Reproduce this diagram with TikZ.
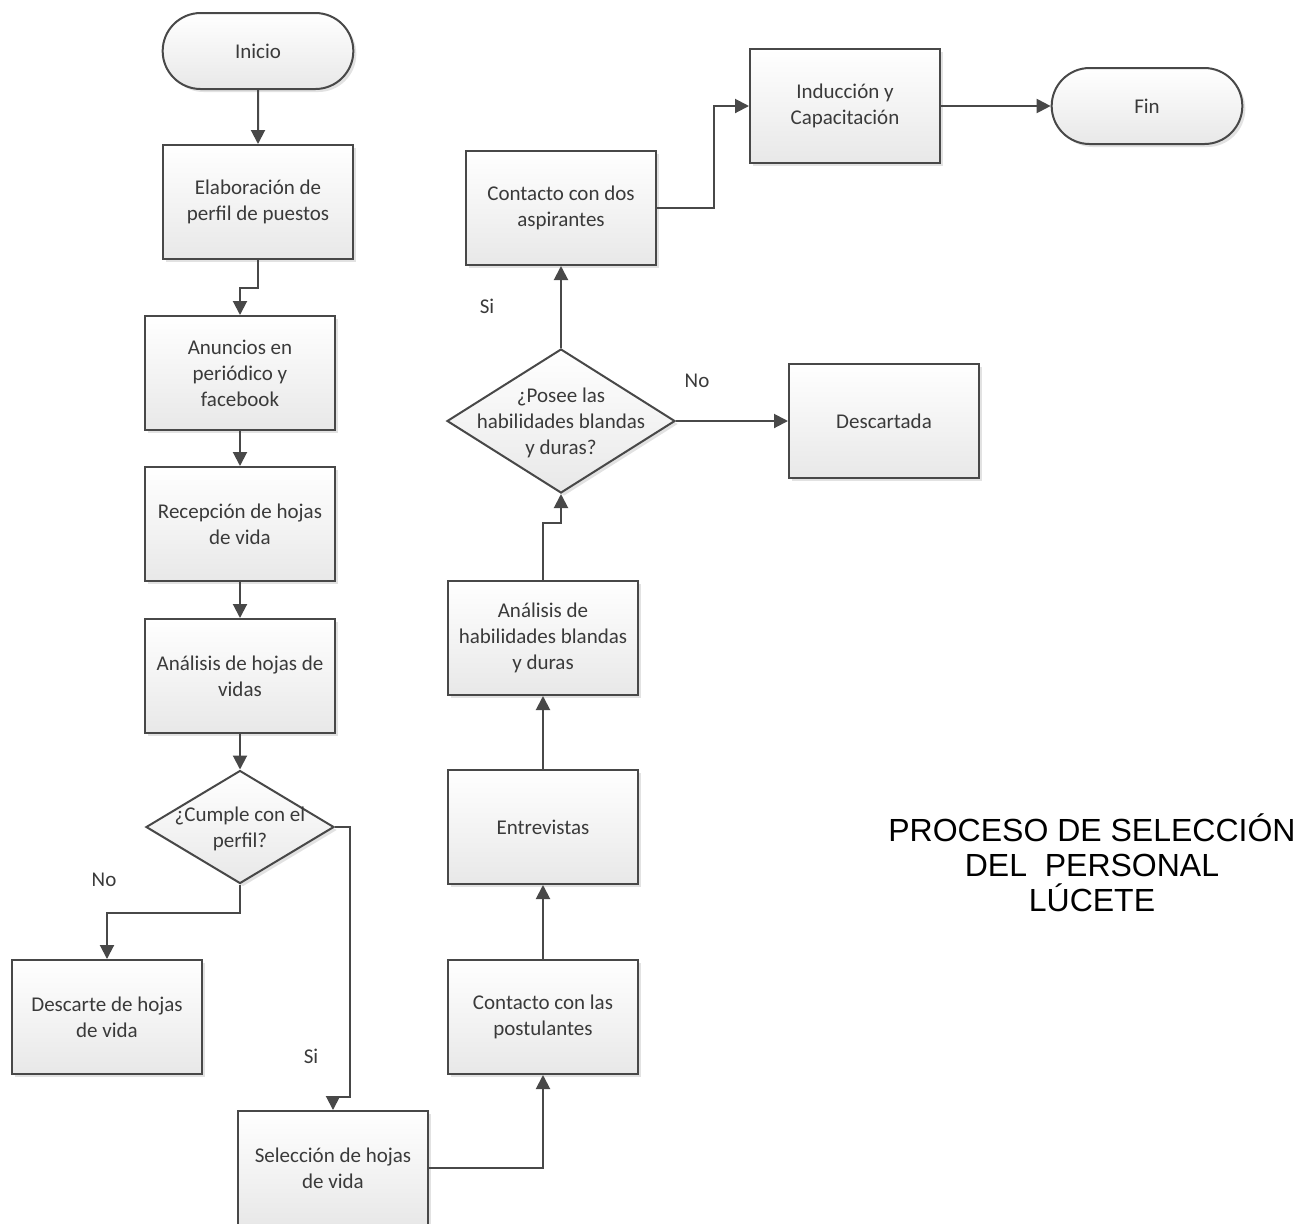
\documentclass[tikz,border=0pt]{standalone}
\usepackage{fontspec}
\setmainfont{Carlito}
\newfontfamily\titlefont{Liberation Sans}
\usetikzlibrary{shapes.geometric,shapes.misc,arrows.meta,shadows}

\definecolor{linegray}{HTML}{484848}
\definecolor{txtgray}{HTML}{3A3A3A}

% text that may run over the edges of a diamond
\newcommand{\dtext}[1]{\makebox[0pt]{\raisebox{-4pt}{\begin{tabular}{@{}c@{}}#1\end{tabular}}}}

\tikzset{
    boxtext/.style={text=txtgray, font=\fontsize{10.5}{13}\selectfont},
    stepbox/.style={boxtext, draw=linegray, line width=1pt, top color=white, bottom color=black!9,
        minimum width=95pt, minimum height=57pt, align=center,
        drop shadow={shadow xshift=1.5pt, shadow yshift=-1.5pt, opacity=.25, fill=black!45}},
    endbox/.style={stepbox, rounded rectangle, minimum width=102pt, minimum height=38pt},
    askbox/.style={stepbox, diamond, inner sep=0pt, text height=0pt, text depth=0pt},
    flow/.style={draw=linegray, line width=1pt, -{Triangle[width=7pt,length=7pt]}},
}

\begin{document}
\begin{tikzpicture}[x=0.5pt, y=-0.5pt]%% start picture
    \clip (0, 0) rectangle (1297, 1223);

        %% left column
            \node[endbox] (inicio) at (258, 51){Inicio};
            \node[stepbox] (elab) at (258, 202){Elaboración de\\perfil de puestos};
            \node[stepbox] (anun) at (240, 373){Anuncios en\\periódico y\\facebook};
            \node[stepbox] (recep) at (240, 524){Recepción de hojas\\de vida};
            \node[stepbox] (anhojas) at (240, 676){Análisis de hojas de\\vidas};
            \node[askbox, minimum width=94pt, minimum height=56.5pt] (cumple) at (240, 827){\dtext{¿Cumple con el\\perfil?}};
            \node[stepbox] (descarte) at (107, 1017){Descarte de hojas\\de vida};
            \node[stepbox] (selec) at (333, 1168){Selección de hojas\\de vida};
                \node[boxtext] (nocumple) at (104, 880){No};
                \node[boxtext] (sicumple) at (311, 1056){Si};

        %% middle column
            \node[stepbox] (contpos) at (543, 1017){Contacto con las\\postulantes};
            \node[stepbox] (entrev) at (543, 827){Entrevistas};
            \node[stepbox] (anhab) at (543, 638){Análisis de\\habilidades blandas\\y duras};
            \node[askbox, minimum width=114pt, minimum height=72pt] (posee) at (561, 421){\dtext{¿Posee las\\habilidades blandas\\y duras?}};
            \node[stepbox] (contdos) at (561, 208){Contacto con dos\\aspirantes};
                \node[boxtext] (siposee) at (487, 306){Si};
                \node[boxtext] (noposee) at (697, 381){No};

        %% right side
            \node[stepbox] (descartada) at (884, 421){Descartada};
            \node[stepbox] (induc) at (845, 106){Inducción y\\Capacitación};
            \node[endbox] (fin) at (1147, 106){Fin};

            \node[align=center, font=\titlefont\fontsize{16}{17.5}\selectfont] (titulo) at (1092, 863)
                {PROCESO DE SELECCIÓN\\DEL~~PERSONAL\hspace*{15pt}\\LÚCETE};

        %% connectors
            \draw[flow](inicio) to (elab);
            \draw[flow](elab.south) -- ++(0, 28) -| (anun.north);
            \draw[flow](anun) to (recep);
            \draw[flow](recep) to (anhojas);
            \draw[flow](anhojas) to (cumple);
                \draw[flow](cumple.south) -- ++(0, 28) -| (descarte.north);
                \draw[flow](cumple.east) -- ++(15, 0) -- ++(0, 270) -| (selec.north);
            \draw[flow](selec.east) -| (contpos.south);
            \draw[flow](contpos) to (entrev);
            \draw[flow](entrev) to (anhab);
            \draw[flow](anhab.north) -- ++(0, -57) -| (posee.south);
                \draw[flow](posee.east) to (descartada.west);
                \draw[flow](posee.north) to (contdos.south);
            \draw[flow](contdos.east) -- ++(57, 0) |- (induc.west);
            \draw[flow](induc.east) to (fin.west);

\end{tikzpicture}
\end{document}
